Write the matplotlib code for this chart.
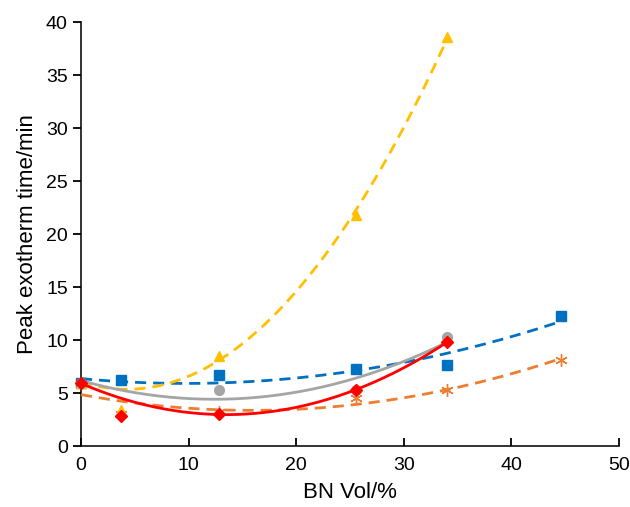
import numpy as np
import matplotlib
matplotlib.use("Agg")
import matplotlib.pyplot as plt

plt.rcParams['font.family'] = ['Liberation Sans', 'DejaVu Sans']

# BN loading (vol%) and peak exotherm time (min) for each series
bn_blue = [0, 3.7, 12.8, 25.6, 34, 44.6]
t_blue = [5.9, 6.2, 6.7, 7.3, 7.6, 12.3]

bn_gold = [0, 3.7, 12.8, 25.6, 34]
t_gold = [5.9, 3.4, 8.5, 21.8, 38.6]

bn_gray = [0, 12.8, 25.6, 34]
t_gray = [5.9, 5.3, 5.3, 10.3]

bn_red = [0, 3.7, 12.8, 25.6, 34]
t_red = [5.9, 2.8, 3.0, 5.3, 9.8]

bn_orange = [0, 3.7, 12.8, 25.6, 34, 44.6]
t_orange = [5.9, 3.0, 3.2, 4.5, 5.3, 8.1]

# the 3.7 vol% samples are left out of the gold and red trendlines
fit_gold = [True, False, True, True, True]
fit_red = [True, False, True, True, True]

series = [
    (bn_orange, t_orange, None, '#ED7D31', (6, 2, 0), '--', 9),
    (bn_blue, t_blue, None, '#0070C0', 's', '--', 7),
    (bn_gold, t_gold, fit_gold, '#FFC000', '^', '--', 7.5),
    (bn_gray, t_gray, None, '#A5A5A5', 'o', '-', 7),
    (bn_red, t_red, fit_red, '#FF0000', 'D', '-', 6),
]

fig = plt.figure(figsize=(6.3, 5.07), dpi=100)
ax = fig.add_axes([0.1286, 0.1203, 0.854, 0.8363])

for x, y, sel, c, m, ls, ms in series:
    x = np.array(x, dtype=float)
    y = np.array(y, dtype=float)
    sel = np.ones(len(x), bool) if sel is None else np.array(sel)
    # second-order polynomial trendline
    coef = np.polyfit(x[sel], y[sel], 2)
    xs = np.linspace(0, x.max(), 200)
    line, = ax.plot(xs, np.polyval(coef, xs), color=c, ls=ls, lw=2, clip_on=False)
    if ls == '--':
        line.set_dashes((4, 2.5))
    if isinstance(m, tuple):
        ax.plot(x, y, ls='none', marker=m, ms=ms, color=c, mew=1, clip_on=False)
    else:
        ax.plot(x, y, ls='none', marker=m, ms=ms, color=c, mec=c, clip_on=False)

ax.set_xlim(0, 50)
ax.set_ylim(0, 40)
ax.set_xticks(range(0, 51, 10))
ax.set_yticks(range(0, 41, 5))
ax.spines['top'].set_visible(False)
ax.spines['right'].set_visible(False)
for s in ('left', 'bottom'):
    ax.spines[s].set_linewidth(1.3)
    ax.spines[s].set_color('#222222')
    ax.spines[s].set_zorder(0.5)
ax.tick_params(axis='x', direction='in', length=6, width=1.3, labelsize=14, pad=8)
ax.tick_params(axis='y', direction='out', length=6, width=1.3, labelsize=14)
ax.set_xlabel('BN Vol/%', fontsize=16, labelpad=6)
ax.set_ylabel('Peak exotherm time/min', fontsize=16, labelpad=6)

fig.savefig('out.png', dpi=100)
